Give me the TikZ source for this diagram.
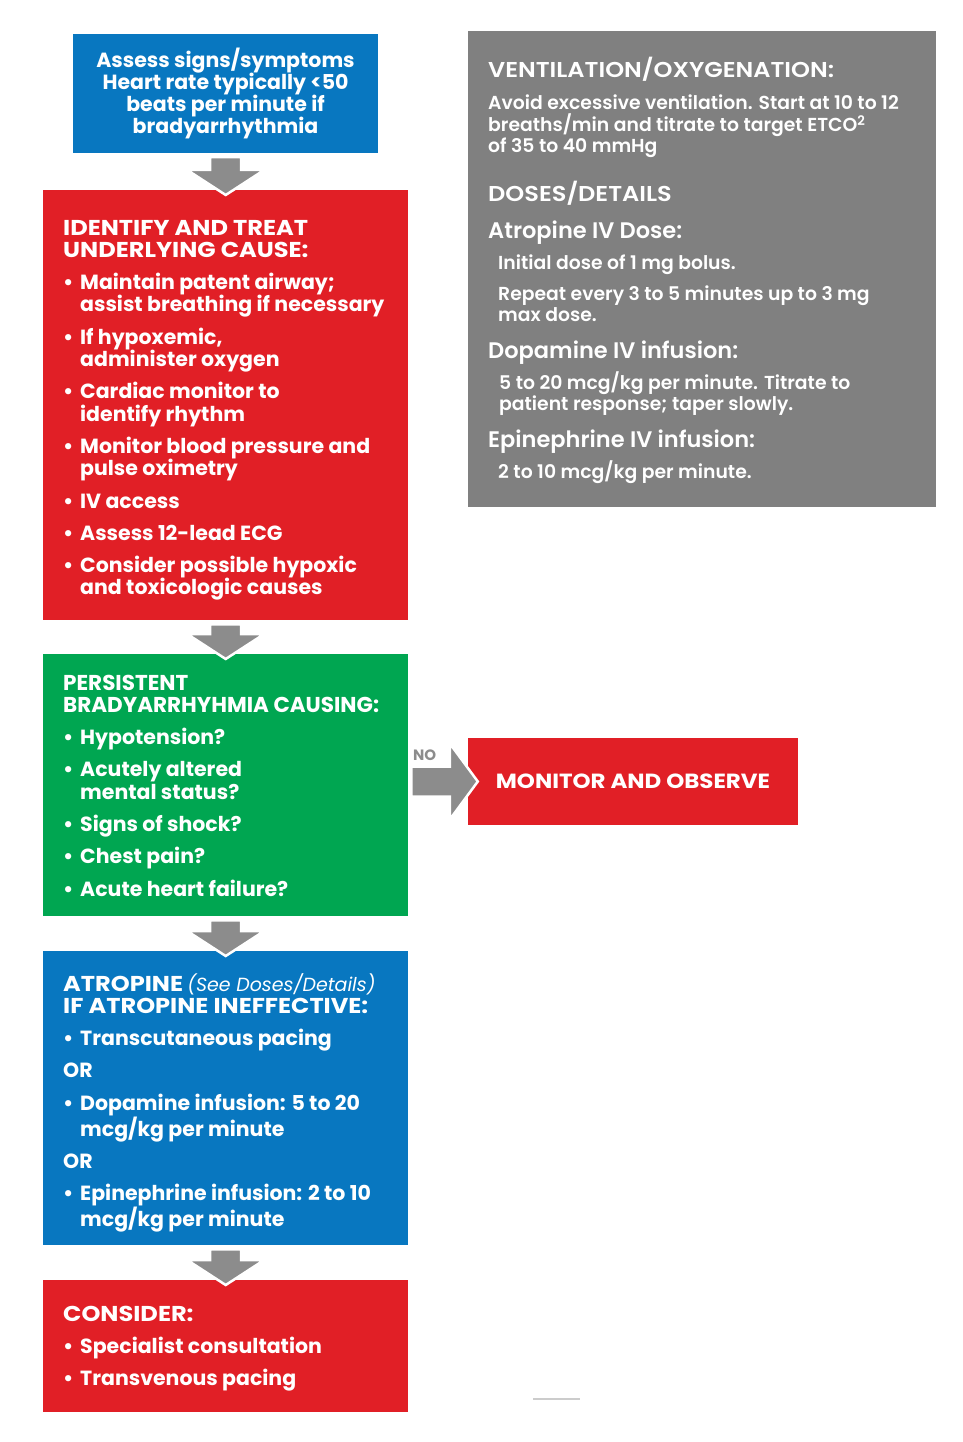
\documentclass[tikz,border=0pt]{standalone}
\usepackage{fontspec}
\setmainfont{Poppins}
\newfontfamily\popsemi{Poppins SemiBold}
\usetikzlibrary{calc,positioning}
\definecolor{algblue}{RGB}{8, 119, 192}
\definecolor{algred}{RGB}{225, 31, 38}
\definecolor{alggreen}{RGB}{0, 166, 81}
\definecolor{panelgray}{RGB}{128, 128, 128}
\definecolor{arrowgray}{RGB}{140, 140, 140}

% box text
\newcommand{\boxfont}{\fontsize{20.5}{22.3}\selectfont\bfseries}
\newcommand{\headfont}{\fontsize{21.5}{22.3}\selectfont\bfseries\addfontfeature{FakeStretch=1.12}}
\newcommand{\panelcaps}{\fontsize{21.5}{22}\selectfont\popsemi\addfontfeature{FakeStretch=1.12}}
\newcommand{\panelhead}{\fontsize{22.5}{22}\selectfont\popsemi}
\newcommand{\panelbody}{\fontsize{18.8}{21.5}\selectfont\popsemi}
\newcommand{\itm}{\par\vspace{10pt}\noindent\makebox[17pt][l]{\textbullet}\hangindent=17pt\hangafter=1\ignorespaces}
\newcommand{\orline}{\par\vspace{10pt}\noindent}

% gray block arrows between boxes
\newcommand{\downblock}[2]{%
  \draw[blockarrow] ($(#1.south)+(-15.5,4)$) -- ($(#1.south)+(15.5,4)$)
    -- ($(#2.north)+(15.5,-20)$) -- ($(#2.north)+(38.5,-20)$) -- ($(#2.north)+(0,5)$)
    -- ($(#2.north)+(-38.5,-20)$) -- ($(#2.north)+(-15.5,-20)$) -- cycle;}
\newcommand{\rightblock}[2]{%
  \draw[blockarrow] ($(#1.east |- #2.west)+(3,-15)$) -- ($(#2.west)+(-18,-15)$)
    -- ($(#2.west)+(-18,-38)$) -- ($(#2.west)+(10,0)$) -- ($(#2.west)+(-18,38)$)
    -- ($(#2.west)+(-18,15)$) -- ($(#1.east |- #2.west)+(3,15)$) -- cycle;}

\begin{document}
\begin{tikzpicture}[x=1pt, y=-1pt,
  algbox/.style={rectangle, inner sep=0pt, anchor=north west, text=white},
  boxtext/.style={inner sep=0pt, anchor=base west, text=white},
  blockarrow/.style={fill=arrowgray, draw=white, line width=2.5pt, line join=miter}
]
\useasboundingbox (0,0) rectangle (962,1442);

% Left column
\node[algbox, fill=algblue, minimum width=305pt, minimum height=119pt, anchor=center, align=center, font=\boxfont] (assess) at (225.5,93.5) {Assess signs/symptoms\\ Heart rate typically <50\\ beats per minute if\\ bradyarrhythmia};

\node[algbox, fill=algred, minimum width=365pt, minimum height=430pt] (identify) at (43,190) {};
\node[boxtext] (identifytxt) at (63,235) {\begin{minipage}[t]{340pt}\boxfont
{\headfont IDENTIFY AND TREAT\\
UNDERLYING CAUSE:}
\itm Maintain patent airway;\\ assist breathing if necessary
\itm If hypoxemic,\\ administer oxygen
\itm Cardiac monitor to\\ identify rhythm
\itm Monitor blood pressure and\\ pulse oximetry
\itm IV access
\itm Assess 12-lead ECG
\itm Consider possible hypoxic\\ and toxicologic causes
\end{minipage}};

\node[algbox, fill=alggreen, minimum width=365pt, minimum height=262pt] (persist) at (43,654) {};
\node[boxtext] (persisttxt) at (63,690) {\begin{minipage}[t]{340pt}\boxfont
{\fontsize{21.5}{22.3}\selectfont PERSISTENT\\
BRADYARRHYHMIA CAUSING:}
\itm Hypotension?
\itm Acutely altered\\ mental status?
\itm Signs of shock?
\itm Chest pain?
\itm Acute heart failure?
\end{minipage}};

\node[algbox, fill=algblue, minimum width=365pt, minimum height=294pt] (atropine) at (43,951) {};
\node[boxtext] (atropinetxt) at (63,991) {\begin{minipage}[t]{340pt}\boxfont
{\headfont ATROPINE} {\fontsize{19}{22}\selectfont\mdseries\itshape (See Doses/Details)}\\
{\headfont IF ATROPINE INEFFECTIVE:}
\itm Transcutaneous pacing
\orline OR
\itm Dopamine infusion: 5 to 20\\ mcg/kg per minute
\orline OR
\itm Epinephrine infusion: 2 to 10\\ mcg/kg per minute
\end{minipage}};

\node[algbox, fill=algred, minimum width=365pt, minimum height=132pt] (consider) at (43,1280) {};
\node[boxtext] (considertxt) at (63,1321) {\begin{minipage}[t]{340pt}\boxfont
{\headfont CONSIDER:}
\itm Specialist consultation
\itm Transvenous pacing
\end{minipage}};

% Arrows down the column
\downblock{assess}{identify}
\downblock{identify}{persist}
\downblock{persist}{atropine}
\downblock{atropine}{consider}

% NO branch
\node[algbox, fill=algred, minimum width=330pt, minimum height=87pt, anchor=center, font=\boxfont\addfontfeature{FakeStretch=1.12}] (monitor) at (633,781.5) {MONITOR AND OBSERVE};
\rightblock{persist}{monitor}
\node[boxtext, font=\fontsize{15}{15}\selectfont\bfseries, text=arrowgray] (nolabel) at (413,760) {NO};

% Doses panel
\node[algbox, fill=panelgray, minimum width=468pt, minimum height=476pt] (doses) at (468,31) {};
\node[boxtext, font=\panelcaps] (ventitle) at (488,78) {VENTILATION/OXYGENATION:};
\node[boxtext] (ventbody) at (488,110) {\begin{minipage}[t]{440pt}\panelbody
Avoid excessive ventilation. Start at 10 to 12\\
breaths/min and titrate to target ETCO\textsuperscript{2}\\
of 35 to 40 mmHg
\end{minipage}};
\node[boxtext, font=\panelcaps] (dosetitle) at (488,201) {DOSES/DETAILS};
\node[boxtext, font=\panelhead] (atrtitle) at (488,238) {Atropine IV Dose:};
\node[boxtext, font=\panelbody] (atrbody) at (498,269) {Initial dose of 1 mg bolus.};
\node[boxtext] (atrrepeat) at (498,300) {\begin{minipage}[t]{420pt}\panelbody
Repeat every 3 to 5 minutes up to 3 mg\\
max dose.
\end{minipage}};
\node[boxtext, font=\panelhead] (dopatitle) at (488,358) {Dopamine IV infusion:};
\node[boxtext] (dopabody) at (499,389) {\begin{minipage}[t]{420pt}\panelbody
5 to 20 mcg/kg per minute. Titrate to\\
patient response; taper slowly.
\end{minipage}};
\node[boxtext, font=\panelhead] (epititle) at (488,447) {Epinephrine IV infusion:};
\node[boxtext, font=\panelbody] (epibody) at (498,478) {2 to 10 mcg/kg per minute.};

% stray rule near the bottom
\draw[black!20, line width=1.5pt] (533,1399) -- (580,1399);

\end{tikzpicture}
\end{document}
